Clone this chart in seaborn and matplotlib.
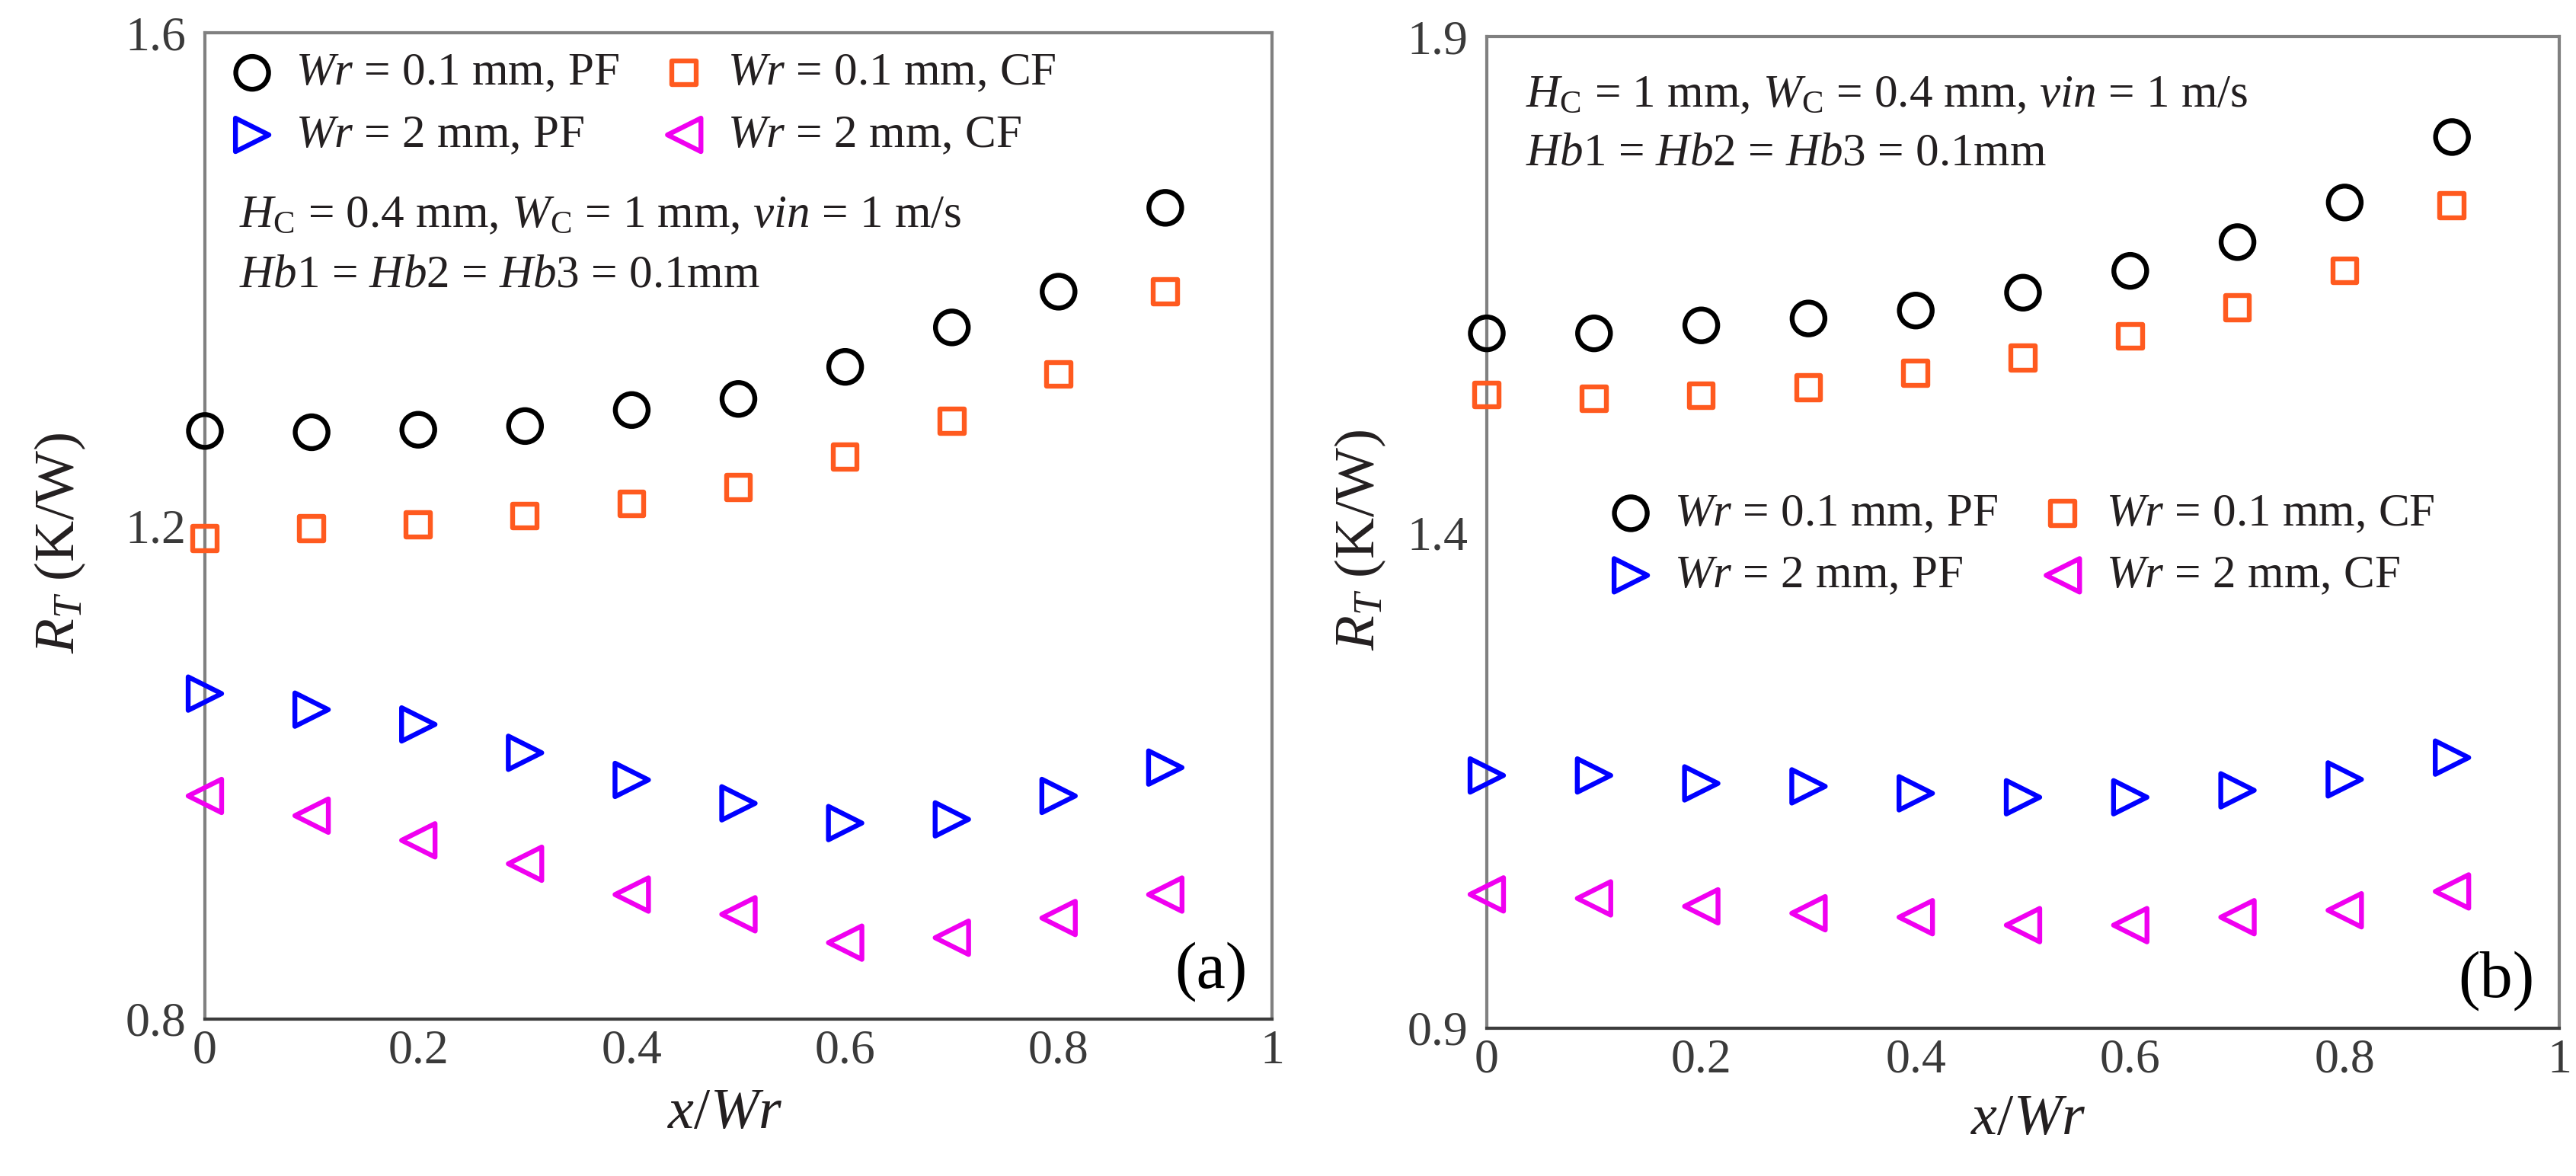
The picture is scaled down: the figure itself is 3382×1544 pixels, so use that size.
import numpy as np
import pandas as pd
import seaborn as sns
import matplotlib.pyplot as plt

# x/Wr positions
x_pos = [0.0, 0.1, 0.2, 0.3, 0.4, 0.5, 0.6, 0.7, 0.8, 0.9]

# (a) HC = 0.4 mm, WC = 1 mm
a_pf_01 = [1.277, 1.276, 1.278, 1.281, 1.294, 1.303, 1.329, 1.361, 1.390, 1.458]
a_cf_01 = [1.190, 1.198, 1.201, 1.208, 1.218, 1.231, 1.256, 1.285, 1.323, 1.390]
a_pf_2 = [1.064, 1.051, 1.039, 1.016, 0.994, 0.975, 0.959, 0.962, 0.981, 1.004]
a_cf_2 = [0.981, 0.965, 0.945, 0.926, 0.901, 0.885, 0.862, 0.866, 0.882, 0.901]

# (b) HC = 1 mm, WC = 0.4 mm
b_pf_01 = [1.601, 1.601, 1.609, 1.616, 1.624, 1.642, 1.664, 1.693, 1.733, 1.799]
b_cf_01 = [1.539, 1.535, 1.538, 1.546, 1.561, 1.576, 1.598, 1.627, 1.664, 1.730]
b_pf_2 = [1.155, 1.155, 1.147, 1.144, 1.137, 1.133, 1.133, 1.140, 1.151, 1.173]
b_cf_2 = [1.035, 1.031, 1.023, 1.016, 1.012, 1.004, 1.004, 1.012, 1.019, 1.038]

series_labels = ["$Wr$ = 0.1 mm, PF", "$Wr$ = 0.1 mm, CF",
                 "$Wr$ = 2 mm, PF", "$Wr$ = 2 mm, CF"]
series_colors = ["black", "#ff5a1f", "#0000ff", "#f000f0"]
series_markers = ["o", "s", ">", "<"]
series_sizes = [960, 520, 1000, 1000]

x_ticks = [0, 0.2, 0.4, 0.6, 0.8, 1]
x_ticklabels = ["0", "0.2", "0.4", "0.6", "0.8", "1"]
a_yticks = [0.8, 1.2, 1.6]
b_yticks = [0.9, 1.4, 1.9]

a_notes = ["$H_{\\mathrm{C}}$ = 0.4 mm, $W_{\\mathrm{C}}$ = 1 mm, $vin$ = 1 m/s",
           "$Hb$1 = $Hb$2 = $Hb$3 = 0.1mm"]
b_notes = ["$H_{\\mathrm{C}}$ = 1 mm, $W_{\\mathrm{C}}$ = 0.4 mm, $vin$ = 1 m/s",
           "$Hb$1 = $Hb$2 = $Hb$3 = 0.1mm"]

sns.set_theme(style="white")
plt.rcParams["font.family"] = ["Liberation Serif", "DejaVu Serif"]
plt.rcParams["mathtext.fontset"] = "custom"
plt.rcParams["mathtext.rm"] = "Liberation Serif"
plt.rcParams["mathtext.it"] = "Liberation Serif:italic"
plt.rcParams["mathtext.bf"] = "Liberation Serif:bold"

TEXT_C = "#231f20"
TICK_C = "#3a3a3a"

fig = plt.figure(figsize=(33.82, 15.44), dpi=100)
ax_a = fig.add_axes([0.07954, 0.13342, 0.41425, 0.83873])
ax_b = fig.add_axes([0.57717, 0.12565, 0.41632, 0.84294])


def draw_panel(ax, values, yticks, notes, note_xy, note_dy, leg_anchor, tag,
               xlab_xy, ylab_xy):
    for vals, lab, col, mk, sz in zip(values, series_labels, series_colors,
                                      series_markers, series_sizes):
        sns.scatterplot(x=x_pos, y=vals, ax=ax, marker=mk, s=sz,
                        facecolor="none", edgecolor=col, linewidth=4.6,
                        label=lab, clip_on=False, zorder=3, legend=False)

    ax.set_xlim(0, 1)
    ax.set_ylim(yticks[0], yticks[-1])
    ax.set_xticks(x_ticks)
    ax.set_xticklabels(x_ticklabels)
    ax.set_yticks(yticks)
    ax.set_yticklabels([f"{v:.1f}" for v in yticks])
    ax.tick_params(axis="both", direction="in", length=11, width=2,
                   color="#3c3c3c", labelcolor=TICK_C, labelsize=46)
    ax.tick_params(axis="x", pad=10)
    ax.tick_params(axis="y", pad=18)

    for side in ["left", "top", "right"]:
        ax.spines[side].set_color("#808080")
        ax.spines[side].set_linewidth(3)
    ax.spines["bottom"].set_color("#3c3c3c")
    ax.spines["bottom"].set_linewidth(3)

    ax.set_xlabel("$x/Wr$", fontsize=55, color=TEXT_C)
    ax.set_ylabel("$R_T$ (K/W)", fontsize=54, color=TEXT_C)
    ax.xaxis.set_label_coords(*xlab_xy)
    ax.yaxis.set_label_coords(*ylab_xy)

    # legend: PF in first column, CF in second column
    handles, labels = ax.get_legend_handles_labels()
    order = [0, 2, 1, 3]
    ax.legend([handles[i] for i in order], [labels[i] for i in order],
              ncol=2, loc="upper left", bbox_to_anchor=leg_anchor,
              frameon=False, fontsize=44, labelcolor=TEXT_C,
              handlelength=1.0, handletextpad=0.43, columnspacing=0.9,
              labelspacing=0.42, borderpad=0, borderaxespad=0,
              scatterpoints=1)

    for i, line in enumerate(notes):
        ax.text(note_xy[0], note_xy[1] - i * note_dy, line, transform=ax.transAxes,
                ha="left", va="center", fontsize=44, color=TEXT_C)

    ax.text(0.977, 0.048, tag, transform=ax.transAxes, ha="right", va="center",
            fontsize=62, color="black")


draw_panel(ax_a, [a_pf_01, a_cf_01, a_pf_2, a_cf_2], a_yticks, a_notes,
           (0.032, 0.8147), 0.061, (0.0225, 0.980), "(a)",
           (0.4875, -0.0695), (-0.11, 0.483))
draw_panel(ax_b, [b_pf_01, b_cf_01, b_pf_2, b_cf_2], b_yticks, b_notes,
           (0.036, 0.9412), 0.0587, (0.1126, 0.540), "(b)",
           (0.505, -0.066), (-0.092, 0.493))

fig.savefig("out.png", dpi=100, facecolor="white")
